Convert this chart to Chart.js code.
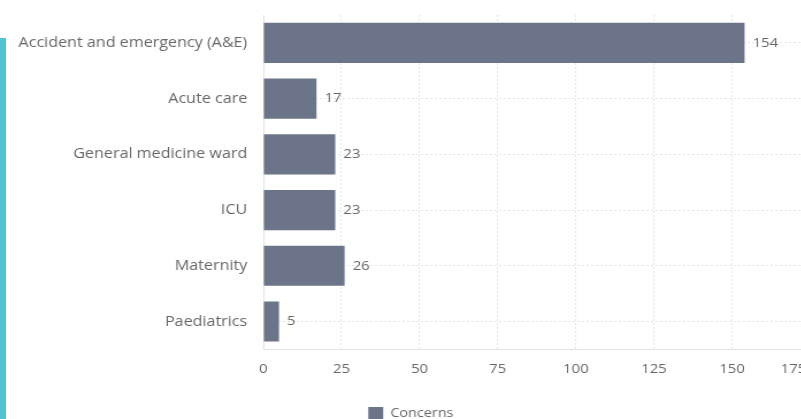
<!DOCTYPE html>
<html>
<head>
<meta charset="utf-8">
<script src="https://cdn.jsdelivr.net/npm/chart.js@4.4.1/dist/chart.umd.min.js"></script>
<style>
  html, body { margin: 0; padding: 0; background: #fff; overflow: hidden; }
  #stripe { position: absolute; left: 0; top: 38px; width: 6px; height: 400px; background: #55c3cf; }
  /* the reference is a little stretched sideways */
  #wrap { position: absolute; left: 0; top: 0; width: 720px; height: 430px;
          transform: scaleX(1.15); transform-origin: 0 0; }
</style>
</head>
<body>
<div id="stripe"></div>
<div id="wrap"><canvas id="concernChart"></canvas></div>
<script>
// data
const categories = [
    "Accident and emergency (A&E)",
    "Acute care",
    "General medicine ward",
    "ICU",
    "Maternity",
    "Paediatrics"
];
const concerns = [154, 17, 23, 23, 26, 5];
const xTicks = [0, 25, 50, 75, 100, 125, 150, 175];

const textColor = "#666";
const barColor = "#6b7489";
const family = "'Open Sans', sans-serif";
const hidden = "rgba(0,0,0,0)";
const visibleRight = 701; // last x label is pushed in so it ends here

// value labels at the end of each bar + the justified last x tick label
const valueLabels = {
    id: "valueLabels",
    afterDatasetsDraw(chart) {
        const ctx = chart.ctx;
        const meta = chart.getDatasetMeta(0);
        ctx.save();
        ctx.font = "13px " + family;
        ctx.fillStyle = textColor;
        ctx.textAlign = "left";
        ctx.textBaseline = "middle";
        meta.data.forEach((bar, i) => {
            ctx.fillText(String(concerns[i]), bar.x + 7, bar.y);
        });

        const xs = chart.scales.x;
        const last = String(xTicks[xTicks.length - 1]);
        const w = ctx.measureText(last).width;
        const x = Math.min(xs.getPixelForValue(Number(last)), visibleRight - w / 2);
        ctx.textAlign = "center";
        ctx.fillText(last, x, xs.top + 12 + 13 * 1.2 / 2);
        ctx.restore();
    }
};

new Chart(document.getElementById("concernChart"), {
    type: "bar",
    data: {
        labels: categories,
        datasets: [{
            label: "Concerns",
            data: concerns,
            backgroundColor: barColor,
            borderWidth: 0
        }]
    },
    options: {
        indexAxis: "y",
        responsive: true,
        maintainAspectRatio: false,
        animation: false,
        layout: { padding: { top: 15, left: 10, right: 15.5 } },
        scales: {
            x: {
                min: 0,
                max: 175,
                afterBuildTicks: s => { s.ticks = xTicks.map(v => ({ value: v })); },
                grid: { color: "#e4e4e4", tickLength: 12, tickColor: hidden },
                border: { color: "#e2e2e2", dash: [2, 2] },
                ticks: {
                    color: textColor,
                    font: { family: family, size: 13 },
                    padding: 0,
                    callback: (v, i, ticks) => (i === ticks.length - 1 ? "" : v)
                }
            },
            y: {
                afterFit: s => { s.width = 219; },
                grid: { color: "#e4e4e4", offset: false, tickLength: 14, tickColor: hidden },
                border: { color: "#e2e2e2", dash: [2, 2] },
                ticks: { color: textColor, font: { family: family, size: 14 }, padding: 0 }
            }
        },
        plugins: {
            legend: {
                position: "bottom",
                labels: {
                    color: textColor,
                    font: { family: family, size: 12.5 },
                    boxWidth: 13,
                    boxHeight: 13,
                    padding: 30
                }
            },
            tooltip: { enabled: false }
        }
    },
    plugins: [valueLabels]
});
</script>
</body>
</html>
